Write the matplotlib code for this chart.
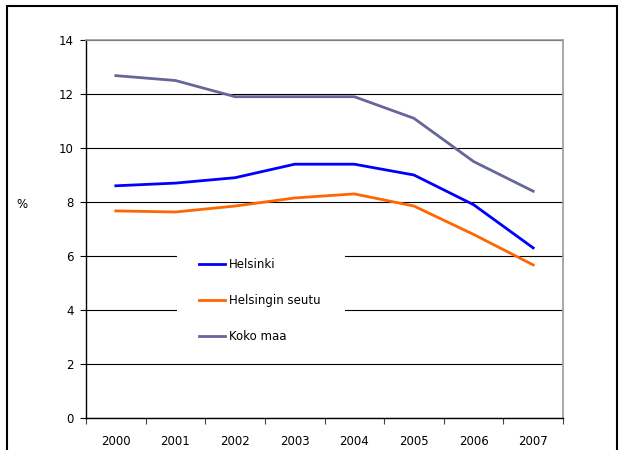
import numpy as np
import matplotlib.pyplot as plt
from matplotlib.patches import Rectangle

plt.rcParams['font.family'] = ['DejaVu Sans']

years = ["2000", "2001", "2002", "2003", "2004", "2005", "2006", "2007"]
helsinki = [8.6, 8.7, 8.9, 9.4, 9.4, 9.0, 7.9, 6.3]
helsingin_seutu = [7.67, 7.63, 7.85, 8.15, 8.3, 7.85, 6.8, 5.67]
koko_maa = [12.68, 12.5, 11.9, 11.9, 11.9, 11.1, 9.5, 8.4]

fig = plt.figure(figsize=(6.21, 4.5), dpi=100)
ax = fig.add_axes([86 / 621, 1 - 418 / 450, 477 / 621, 378 / 450])

x = np.arange(len(years))
ax.plot(x, helsinki, color="#0000ff", lw=2.0, label="Helsinki", zorder=3)
ax.plot(x, helsingin_seutu, color="#ff6600", lw=2.0, label="Helsingin seutu", zorder=3)
ax.plot(x, koko_maa, color="#666699", lw=2.0, label="Koko maa", zorder=3)

ax.set_xlim(-0.5, len(years) - 0.5)
ax.set_ylim(0, 14)
ax.set_yticks(np.arange(0, 15, 2))
ax.yaxis.grid(True, color="black", lw=0.8)
ax.set_axisbelow(True)

# x ticks between categories, labels centred
ax.set_xticks(np.arange(-0.5, len(years), 1))
ax.set_xticklabels([])
ax.set_xticks(x, minor=True)
ax.set_xticklabels(years, minor=True)
ax.tick_params(axis="x", which="major", direction="out", length=4, width=0.8, color="#444444")
ax.tick_params(axis="x", which="minor", length=0, pad=12, labelsize=8.5)
ax.tick_params(axis="y", direction="out", length=4, width=0.8, pad=5, labelsize=8.5)

for s in ["top", "right"]:
    ax.spines[s].set_color("#999999")
    ax.spines[s].set_linewidth(1.2)
for s in ["left", "bottom"]:
    ax.spines[s].set_color("black")
    ax.spines[s].set_linewidth(1)

# white legend area hiding the gridlines
ax.add_patch(Rectangle((0.1908, 0.1587), 0.352, 0.291, transform=ax.transAxes,
                       facecolor="white", edgecolor="none", zorder=1))
ax.legend(loc="upper left", bbox_to_anchor=(0.2075, 0.46), fontsize=8.5,
          frameon=False, handlelength=2.2, handletextpad=0.3,
          labelspacing=1.95, borderpad=1.2, borderaxespad=0)

fig.text(22 / 621, 1 - 205 / 450, "%", fontsize=8.5, ha="center", va="center")

fig.add_artist(Rectangle((7 / 621, -0.1), 610 / 621, 1.1 - 6 / 450,
                         transform=fig.transFigure, fill=False,
                         edgecolor="black", lw=1.5, clip_on=False))

plt.savefig("out.png", dpi=100)
plt.close()
